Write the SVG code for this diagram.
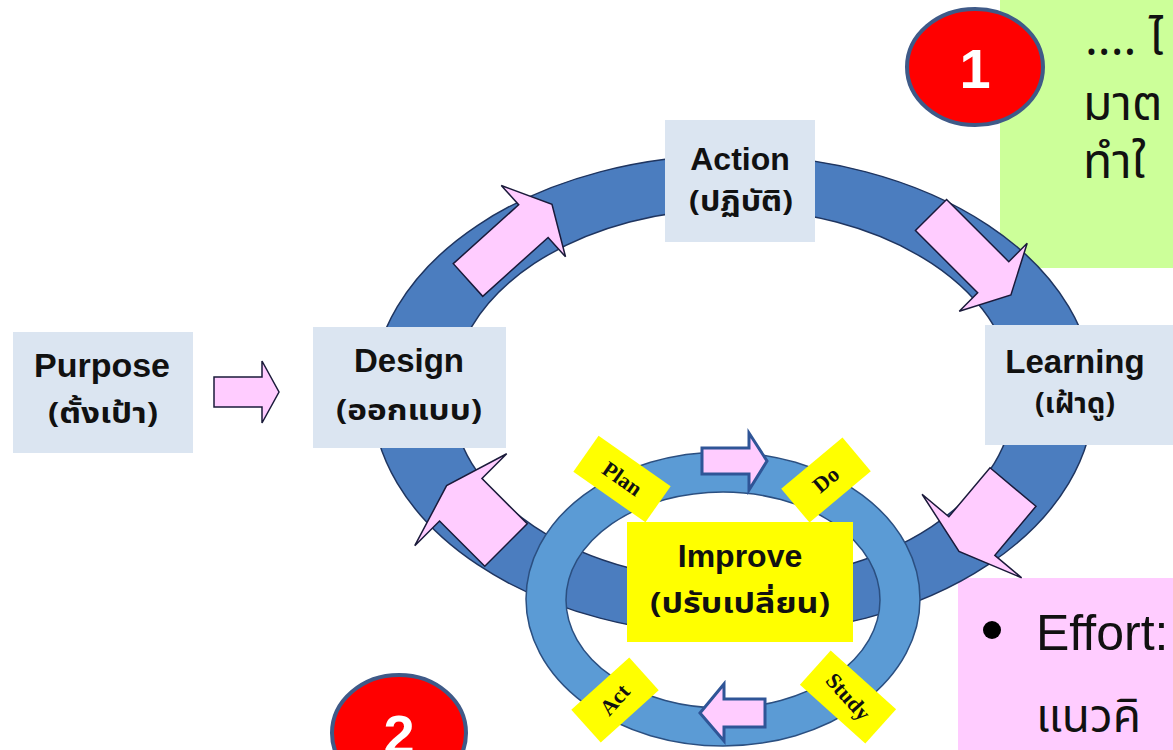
<svg xmlns="http://www.w3.org/2000/svg" width="1173" height="750" viewBox="0 0 1173 750">
<style>
.box{fill:#dbe5f1}
.en{font-family:"Liberation Sans",Arial,sans-serif;font-weight:bold;font-size:33px;fill:#111;text-anchor:middle}
.th{font-family:"Noto Sans Thai","Liberation Sans","Noto Sans","DejaVu Sans",sans-serif;font-weight:bold;font-size:28px;fill:#111;text-anchor:middle}
.big{fill:#4b7dbf;stroke:#1f3560;stroke-width:1.5;fill-rule:evenodd}
.small{fill:#5b9bd5;stroke:#2b4f80;stroke-width:1.5;fill-rule:evenodd}
.parr{fill:#ffccff;stroke:#1a1a3a;stroke-width:1.5;stroke-linejoin:miter}
.sarr{fill:#ffccff;stroke:#2f5597;stroke-width:3}
.tag{fill:#ffff00}
.tagt{font-family:"Liberation Serif","Times New Roman",serif;font-weight:bold;font-size:22px;fill:#111;text-anchor:middle}
.red{fill:#ff0000;stroke:#3f5a88;stroke-width:4}
.num{font-family:"Liberation Sans",Arial,sans-serif;font-weight:bold;font-size:56px;fill:#fff;text-anchor:middle}
.note{font-family:"Noto Sans Thai","Liberation Sans","Noto Sans",sans-serif;font-size:48px;fill:#111}
</style>
<defs>
<polygon id="arA" class="parr" points="0,-22 88,-22 88,-48 113,0 88,48 88,22 0,22"/>
<polygon id="arB" class="parr" points="0,-30 64,-30 64,-65 84,0 64,65 64,30 0,30"/>
</defs>
<rect width="1173" height="750" fill="#ffffff"/>

<g id="notes">
<rect x="1000" y="0" width="173" height="268" fill="#ccff99"/>
<text class="note" x="1085" y="55">.... ไ</text>
<text class="note" x="1083" y="120">มาต</text>
<text class="note" x="1083" y="178">ทำใ</text>
<rect x="958" y="578" width="215" height="172" fill="#ffccff"/>
<circle cx="992" cy="630" r="9" fill="#000"/>
<text class="note" x="1036" y="650" style="font-family:'Liberation Sans',Arial,sans-serif;font-size:50px">Effort:</text>
<text class="note" x="1036" y="732" style="font-size:46px">แนวคิ</text>
</g>

<g id="cycle">
<path class="big" d="M372,395 a361,240 0 1,0 722,0 a361,240 0 1,0 -722,0 Z M452,395 a281,186 0 1,0 562,0 a281,186 0 1,0 -562,0 Z"/>
<path class="small" d="M526,599 a197,147 0 1,0 394,0 a197,147 0 1,0 -394,0 Z M566,600 a157,108 0 1,0 314,0 a157,108 0 1,0 -314,0 Z"/>
</g>

<g id="connectors">
<polygon class="parr" points="214,377 262,377 262,361 279,392 262,423 262,407 214,407"/>
<use href="#arA" transform="translate(468,280) rotate(-42)"/>
<use href="#arA" transform="translate(931,215) rotate(45)"/>
<use href="#arB" transform="translate(1013,487) rotate(130)"/>
<use href="#arB" transform="translate(506,545) rotate(-135)"/>
<polygon class="sarr" points="702,448 749,448 749,433 767,461 749,490 749,474 702,474"/>
<polygon class="sarr" points="765,699 724,699 724,684 700,713 724,741 724,727 765,727"/>
</g>

<g id="plan" transform="translate(622,479) rotate(35)">
<rect class="tag" x="-44" y="-22" width="88" height="44"/>
<text class="tagt" x="0" y="7">Plan</text>
</g>
<g id="do" transform="translate(826,480) rotate(-40)">
<rect class="tag" x="-40" y="-22" width="80" height="44"/>
<text class="tagt" x="0" y="7">Do</text>
</g>
<g id="study" transform="translate(848,697) rotate(42)">
<rect class="tag" x="-44" y="-23" width="88" height="46"/>
<text class="tagt" x="0" y="7" transform="rotate(6)">Study</text>
</g>
<g id="act" transform="translate(615,700) rotate(-42)">
<rect class="tag" x="-39" y="-22" width="78" height="44"/>
<text class="tagt" x="0" y="7" transform="rotate(-6)">Act</text>
</g>

<g id="improve">
<rect x="627" y="522" width="226" height="120" fill="#ffff00"/>
<text class="en" x="740" y="567" style="font-size:32px">Improve</text>
<text class="th" x="740" y="613" textLength="180" lengthAdjust="spacingAndGlyphs">(ปรับเปลี่ยน)</text>
</g>

<g id="purpose">
<rect class="box" x="13" y="332" width="180" height="121"/>
<text class="en" x="102" y="377" style="font-size:34px">Purpose</text>
<text class="th" x="103" y="423" textLength="110" lengthAdjust="spacingAndGlyphs">(ตั้งเป้า)</text>
</g>
<g id="design">
<rect class="box" x="313" y="327" width="193" height="121"/>
<text class="en" x="409" y="372">Design</text>
<text class="th" x="409" y="420" textLength="146" lengthAdjust="spacingAndGlyphs">(ออกแบบ)</text>
</g>
<g id="action">
<rect class="box" x="665" y="120" width="150" height="122"/>
<text class="en" x="740" y="170" style="font-size:32px">Action</text>
<text class="th" x="741" y="211" textLength="104" lengthAdjust="spacingAndGlyphs">(ปฏิบัติ)</text>
</g>
<g id="learning">
<rect class="box" x="985" y="325" width="188" height="120"/>
<text class="en" x="1075" y="373">Learning</text>
<text class="th" x="1075" y="413" textLength="80" lengthAdjust="spacingAndGlyphs">(เฝ้าดู)</text>
</g>

<g id="badge1">
<ellipse class="red" cx="975" cy="67" rx="68" ry="58"/>
<text class="num" x="975" y="88">1</text>
</g>
<g id="badge2">
<ellipse class="red" cx="399" cy="733" rx="67" ry="58"/>
<text class="num" x="399" y="754">2</text>
</g>
</svg>
